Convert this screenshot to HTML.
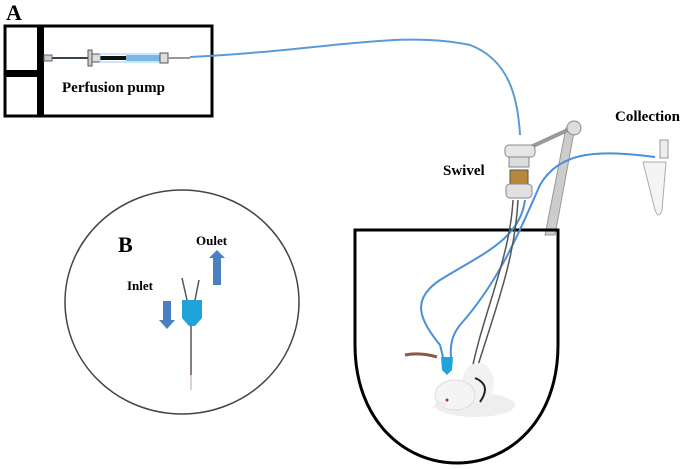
<!DOCTYPE html>
<html><head><style>html,body{margin:0;padding:0;background:#fff;width:685px;height:469px;overflow:hidden}</style></head>
<body>
<svg width="685" height="469" viewBox="0 0 685 469" xmlns="http://www.w3.org/2000/svg" font-family="Liberation Serif, serif" font-weight="bold">
<!-- A -->
<text x="6" y="20" font-size="22">A</text>
<rect x="5" y="26" width="207" height="90" fill="none" stroke="#000" stroke-width="3"/>
<rect x="37" y="26" width="7" height="90" fill="#000"/>
<rect x="5" y="70" width="35" height="7" fill="#000"/>
<line x1="44" y1="58" x2="90" y2="58" stroke="#345" stroke-width="2"/>
<rect x="44" y="55" width="8" height="6" fill="#ccc" stroke="#666"/>
<rect x="88" y="50" width="4" height="16" fill="#ccc" stroke="#555"/>
<rect x="92" y="54" width="8" height="8" fill="#ddd" stroke="#555"/>
<rect x="100" y="56" width="26" height="4" fill="#111"/>
<rect x="100" y="54" width="60" height="8" fill="none" stroke="#9cf"/>
<rect x="126" y="55" width="34" height="6" fill="#7ab8e6"/>
<rect x="160" y="53" width="8" height="10" fill="#ddd" stroke="#555"/>
<line x1="168" y1="58" x2="190" y2="58" stroke="#999" stroke-width="2"/>
<text x="62" y="92" font-size="15">Perfusion  pump</text>
<path d="M190,57 C330,50 400,30 470,45 C510,60 518,100 520,135" fill="none" stroke="#5b9bd5" stroke-width="2"/>
<!-- Swivel & arm -->
<path d="M545,235 L566,128 L574,132 L555,235 Z" fill="#ccc" stroke="#999"/>
<line x1="520" y1="152" x2="572" y2="128" stroke="#999" stroke-width="4"/>
<circle cx="574" cy="128" r="7" fill="#ddd" stroke="#888"/>
<rect x="505" y="145" width="30" height="12" rx="4" fill="#e6e6e6" stroke="#888"/>
<rect x="509" y="157" width="20" height="10" fill="#ddd" stroke="#888"/>
<rect x="510" y="170" width="18" height="14" fill="#b8893a" stroke="#555"/>
<rect x="506" y="184" width="26" height="14" rx="4" fill="#e0e0e0" stroke="#888"/>
<text x="443" y="175" font-size="15">Swivel</text>
<text x="615" y="121" font-size="15">Collection</text>
<path d="M643,162 L666,162 L662,210 Q659,220 655,210 Z" fill="#f4f4f4" stroke="#aaa"/>
<rect x="660" y="140" width="8" height="18" fill="#eee" stroke="#999"/>
<!-- cup -->
<path d="M355,230 H558 V345 C558,420 510,463 457,463 C404,463 355,420 355,345 Z" fill="none" stroke="#000" stroke-width="3"/>
<!-- tubes -->
<path d="M655,157 C600,150 560,150 540,185 C520,230 500,280 460,325 C452,335 450,345 451,357" fill="none" stroke="#4a90d9" stroke-width="2"/>
<path d="M525,200 C520,240 480,255 440,280 C410,300 420,320 440,345 L443,357" fill="none" stroke="#4a90d9" stroke-width="2"/>
<path d="M513,200 C510,260 480,320 470,380" fill="none" stroke="#555" stroke-width="1.5"/>
<path d="M518,200 C515,260 495,310 474,378" fill="none" stroke="#555" stroke-width="1.5"/>
<path d="M441,357 L453,357 L452,370 L447,375 L442,370 Z" fill="#1fa3d8"/>
<path d="M405,355 Q420,352 437,357" fill="none" stroke="#8a5a44" stroke-width="3"/>
<!-- rat -->
<ellipse cx="475" cy="405" rx="40" ry="12" fill="#eee"/>
<ellipse cx="478" cy="383" rx="16" ry="20" fill="#f2f2f2"/>
<ellipse cx="455" cy="395" rx="20" ry="15" fill="#f4f4f4" stroke="#ddd"/>
<path d="M440,400 L432,408 L448,405 Z" fill="#eee"/>
<circle cx="447" cy="400" r="1.5" fill="#a33"/>
<path d="M475,378 Q492,385 480,402" fill="none" stroke="#222" stroke-width="2"/>
<!-- B -->
<ellipse cx="182" cy="302" rx="117" ry="112" fill="none" stroke="#444" stroke-width="1.5"/>
<text x="118" y="252" font-size="22">B</text>
<text x="196" y="245" font-size="13">Oulet</text>
<text x="127" y="290" font-size="13">Inlet</text>
<path d="M209,258 L217,250 L225,258 L221,258 L221,285 L213,285 L213,258 Z" fill="#4a7fc0"/>
<path d="M163,301 L171,301 L171,320 L175,320 L167,329 L159,320 L163,320 Z" fill="#4a7fc0"/>
<line x1="182" y1="278" x2="187" y2="300" stroke="#555" stroke-width="1.5"/>
<line x1="199" y1="280" x2="195" y2="300" stroke="#555" stroke-width="1.5"/>
<path d="M182,300 L202,300 L202,318 L195,326 L189,326 L182,318 Z" fill="#1fa3d8"/>
<line x1="191" y1="326" x2="191" y2="375" stroke="#555" stroke-width="1.5"/>
<line x1="191" y1="375" x2="191" y2="390" stroke="#c99" stroke-width="1"/>
</svg>
</body></html>
